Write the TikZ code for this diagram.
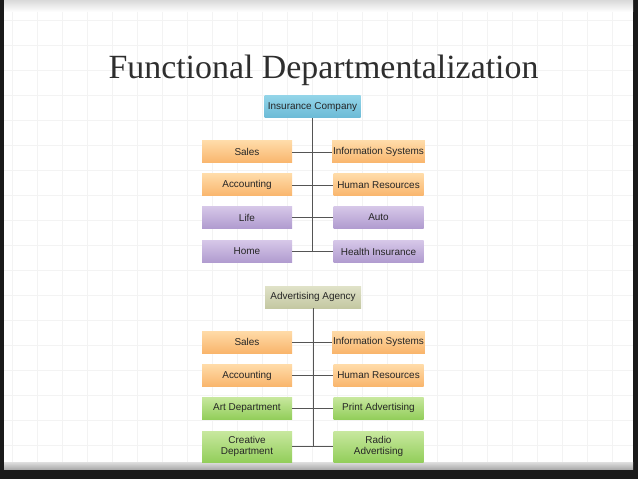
\documentclass[tikz,border=0pt]{standalone}
\usepackage{fontspec}
\setmainfont{Liberation Serif}
\setsansfont{Liberation Sans}
\definecolor{FDFrame}{HTML}{1A1A1A}
\definecolor{FDGrid}{HTML}{F3F3F3}
\definecolor{FDLine}{HTML}{555555}
\definecolor{FDBlueTop}{HTML}{92D4E8}
\definecolor{FDBlueBot}{HTML}{6BBAD6}
\definecolor{FDOrangeTop}{HTML}{FFDBA8}
\definecolor{FDOrangeBot}{HTML}{F9B56C}
\definecolor{FDPurpleTop}{HTML}{D6C7E8}
\definecolor{FDPurpleBot}{HTML}{B09BCF}
\definecolor{FDGreenTop}{HTML}{C8E89F}
\definecolor{FDGreenBot}{HTML}{93CE5B}
\definecolor{FDOliveTop}{HTML}{E0E2C8}
\definecolor{FDOliveBot}{HTML}{C4C8A2}

\begin{document}
\begin{tikzpicture}[x=1bp,y=-1bp,
  deptbox/.style={minimum width=90bp,minimum height=22bp,inner sep=1bp,align=center,
    font=\sffamily\fontsize{10}{11}\selectfont,text=black!85},
  headbox/.style={deptbox,minimum width=96bp},
  orangebox/.style={deptbox,top color=FDOrangeTop,bottom color=FDOrangeBot},
  purplebox/.style={deptbox,top color=FDPurpleTop,bottom color=FDPurpleBot},
  greenbox/.style={deptbox,top color=FDGreenTop,bottom color=FDGreenBot},
  link/.style={FDLine,line width=0.9bp}]
\path[use as bounding box] (0,0) rectangle (638,479);
\fill[FDFrame] (0,0) rectangle (638,479);
\fill[white] (4,0) rectangle (633,466);
\shade[top color=gray!30,bottom color=white] (4,0) rectangle (633,12);
\foreach \gx in {12,37,...,612} \draw[FDGrid] (\gx,12) -- (\gx,462);
\foreach \gy in {20,45,...,445} \draw[FDGrid] (4,\gy) -- (633,\gy);
\shade[top color=gray!25,bottom color=gray!65] (4,462) rectangle (633,469);
\node[anchor=base,font=\fontsize{34}{36}\selectfont,text=black!82] (title) at (323.5,79) {Functional Departmentalization};

\node[headbox,top color=FDBlueTop,bottom color=FDBlueBot] (insurance) at (312.5,107) {Insurance Company};
\node[orangebox] (sales1) at (247,152) {Sales};
\node[orangebox] (accounting1) at (247,185) {Accounting};
\node[purplebox] (life) at (247,217.5) {Life};
\node[purplebox] (home) at (247,251.5) {Home};
\node[orangebox] (infosys1) at (378.5,152) {Information Systems};
\node[orangebox] (hr1) at (378.5,185) {Human Resources};
\node[purplebox] (auto) at (378.5,217.5) {Auto};
\node[purplebox] (health) at (378.5,251.5) {Health Insurance};
\coordinate (trunk1) at (insurance.south |- home.east);
\draw[link] (insurance.south) -- (trunk1);
\draw[link] (sales1) -- (infosys1);
\draw[link] (accounting1) -- (hr1);
\draw[link] (life) -- (auto);
\draw[link] (home) -- (health);

\node[headbox,top color=FDOliveTop,bottom color=FDOliveBot] (advertising) at (313,297) {Advertising Agency};
\node[orangebox] (sales2) at (247,342) {Sales};
\node[orangebox] (accounting2) at (247,375.5) {Accounting};
\node[greenbox] (art) at (247,408) {Art Department};
\node[greenbox,minimum height=31bp] (creative) at (247,446.5) {Creative\\Department};
\node[orangebox] (infosys2) at (378.5,342) {Information Systems};
\node[orangebox] (hr2) at (378.5,375.5) {Human Resources};
\node[greenbox] (print) at (378.5,408) {Print Advertising};
\node[greenbox,minimum height=31bp] (radio) at (378.5,446.5) {Radio\\Advertising};
\coordinate (trunk2) at (advertising.south |- creative.east);
\draw[link] (advertising.south) -- (trunk2);
\draw[link] (sales2) -- (infosys2);
\draw[link] (accounting2) -- (hr2);
\draw[link] (art) -- (print);
\draw[link] (creative) -- (radio);
\end{tikzpicture}
\end{document}
